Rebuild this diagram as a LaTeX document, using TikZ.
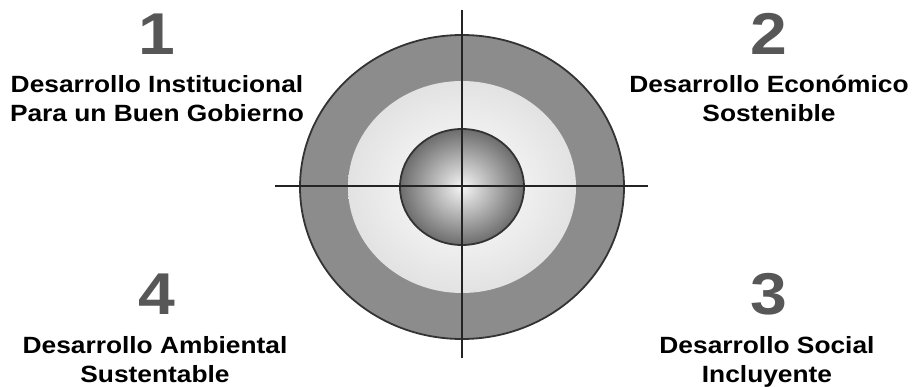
\documentclass[tikz,border=0pt]{standalone}
\usepackage{fontspec}
\setmainfont{Liberation Sans}[FakeStretch=1.12]
\usetikzlibrary{positioning}

\definecolor{ringgray}{HTML}{8C8C8C}
\definecolor{palegray}{HTML}{EDEDED}
\definecolor{numgray}{HTML}{575757}
\definecolor{edgegray}{HTML}{333333}

\begin{document}
\begin{tikzpicture}[x=1pt, y=1pt,
    num/.style={font=\bfseries\fontsize{59}{59}\selectfont, text=numgray, anchor=base, inner sep=0pt},
    lbl/.style={font=\bfseries\fontsize{23.5}{29}\selectfont, align=center, anchor=base, inner sep=0pt}]
    \useasboundingbox (0,0) rectangle (912,386);
    \coordinate (ctr) at (462,199);

    % Rings
    \fill[ringgray, draw=edgegray, line width=1.8pt] (ctr) ellipse (162 and 152);
    \shade[inner color=white, outer color=palegray!90!gray] (ctr) ellipse (114 and 106);
    \shade[inner color=gray!8, outer color=gray!85!black, draw=edgegray, line width=1.8pt]
        (ctr) ellipse (62 and 58);

    % Cross
    \draw[line width=2.8pt, edgegray!70!black] (462,376) -- (462,28);
    \draw[line width=2.8pt, edgegray!70!black] (275,200) -- (648,200);

    % Quadrant Numbers
    \foreach \n/\x/\y in {1/157/331, 2/769/331, 3/769/72, 4/157/72} {
        \node[num] (num\n) at (\x,\y) {\n};
    }

    % Quadrant Labels (anchor = baseline of last line)
    \node[lbl] (lbl1) at (157,264) {Desarrollo Institucional\\Para un Buen Gobierno};
    \node[lbl] (lbl2) at (769,264) {Desarrollo Económico\\Sostenible};
    \node[lbl] (lbl3) at (767,4) {Desarrollo Social\\Incluyente};
    \node[lbl] (lbl4) at (155,4) {Desarrollo Ambiental\\Sustentable};
\end{tikzpicture}
\end{document}
